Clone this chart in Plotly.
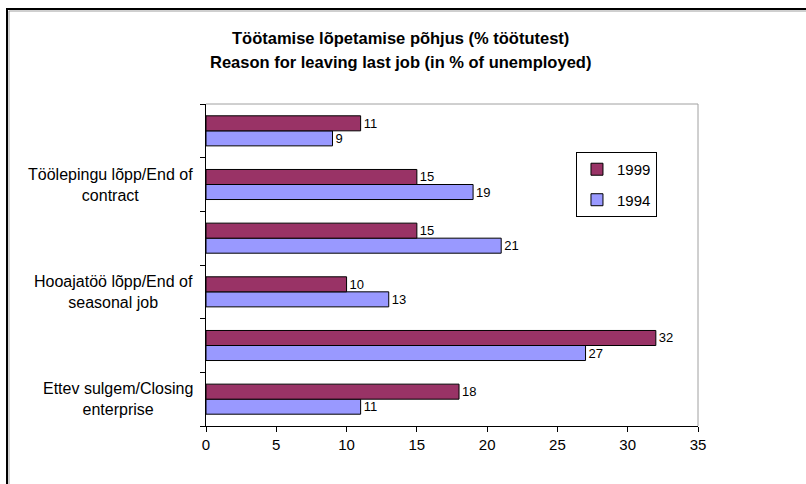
import plotly.graph_objects as go

# categories from bottom to top; unlabeled rows have an empty label
labels = [
    "Ettev sulgem/Closing<br>enterprise",
    "",
    "Hooajatöö lõpp/End of<br>seasonal job",
    "",
    "Töölepingu lõpp/End of<br>contract",
    "",
]
pos = list(range(len(labels)))
vals_1999 = [18, 32, 10, 15, 15, 11]
vals_1994 = [11, 27, 13, 21, 19, 9]

title1 = "Töötamise lõpetamise põhjus (% töötutest)"
title2 = "Reason for leaving last job (in % of unemployed)"

font = "Liberation Sans, Arial, sans-serif"

fig = go.Figure()
fig.add_trace(go.Bar(
    y=pos, x=vals_1994, name="1994", orientation="h",
    legendgroup="g1994", legendrank=2,
    marker=dict(color="#9999FF", line=dict(color="black", width=1)),
    text=vals_1994, textposition="outside", cliponaxis=False,
    textfont=dict(size=13, color="black"),
))
fig.add_trace(go.Bar(
    y=pos, x=vals_1999, name="1999", orientation="h",
    legendgroup="g1999", legendrank=1,
    marker=dict(color="#993366", line=dict(color="black", width=1)),
    text=vals_1999, textposition="outside", cliponaxis=False,
    textfont=dict(size=13, color="black"),
))

fig.update_layout(
    width=806, height=484,
    margin=dict(l=206, r=108, t=104, b=58),
    paper_bgcolor="white", plot_bgcolor="white",
    font=dict(family=font, size=12, color="black"),
    barmode="group", bargap=0.44, bargroupgap=0,
    showlegend=True,
    legend=dict(
        x=0.752, y=0.851, xanchor="left", yanchor="top",
        traceorder="grouped", tracegroupgap=8,
        bordercolor="black", borderwidth=1,
        bgcolor="white", font=dict(size=15), itemwidth=30,
    ),
)

fig.update_xaxes(
    range=[0, 35], dtick=5, showgrid=False, zeroline=False,
    showline=True, linecolor="black", linewidth=1,
    ticks="outside", ticklen=5, tickcolor="black",
    tickfont=dict(size=15),
)
fig.update_yaxes(
    range=[-0.5, 5.5], showgrid=False, zeroline=False,
    showline=True, linecolor="black", linewidth=1,
    tickvals=[p - 0.5 for p in pos] + [5.5],
    ticktext=[""] * (len(pos) + 1),
    ticks="outside", ticklen=5, tickcolor="black",
)

# category labels, centered lines
for p, lab in zip(pos, labels):
    if lab:
        fig.add_annotation(
            x=0, xref="paper", y=p, yref="y", text=lab,
            xanchor="right", yanchor="middle", align="center",
            xshift=-11, showarrow=False, font=dict(size=16),
        )


def px_x(v):
    return (v - 206) / 492


def px_y(v):
    return (426 - v) / 322


# title lines
fig.add_annotation(x=px_x(400), xref="paper", y=px_y(38), yref="paper", yanchor="middle",
                   text="<b>" + title1 + "</b>", showarrow=False, font=dict(size=16.5))
fig.add_annotation(x=px_x(400), xref="paper", y=px_y(62), yref="paper", yanchor="middle",
                   text="<b>" + title2 + "</b>", showarrow=False, font=dict(size=16.5))

# grey top/right plot border
fig.add_shape(type="line", xref="paper", yref="paper", x0=0, x1=1, y0=1, y1=1,
              line=dict(color="#A0A0A0", width=1))
fig.add_shape(type="line", xref="paper", yref="paper", x0=1, x1=1, y0=0, y1=1,
              line=dict(color="#A0A0A0", width=1))

# outer frame (top and left edges)
fig.add_shape(type="path", xref="paper", yref="paper",
              path=f"M {px_x(7)} {px_y(484)} L {px_x(7)} {px_y(9)} L {px_x(806)} {px_y(9)}",
              line=dict(color="black", width=2))
fig.add_shape(type="path", xref="paper", yref="paper",
              path=f"M {px_x(9)} {px_y(484)} L {px_x(9)} {px_y(11)} L {px_x(806)} {px_y(11)}",
              line=dict(color="#A0A0A0", width=1))

fig.write_html("out.html", config={"displayModeBar": False},
               post_script="document.body.style.margin='0';")
